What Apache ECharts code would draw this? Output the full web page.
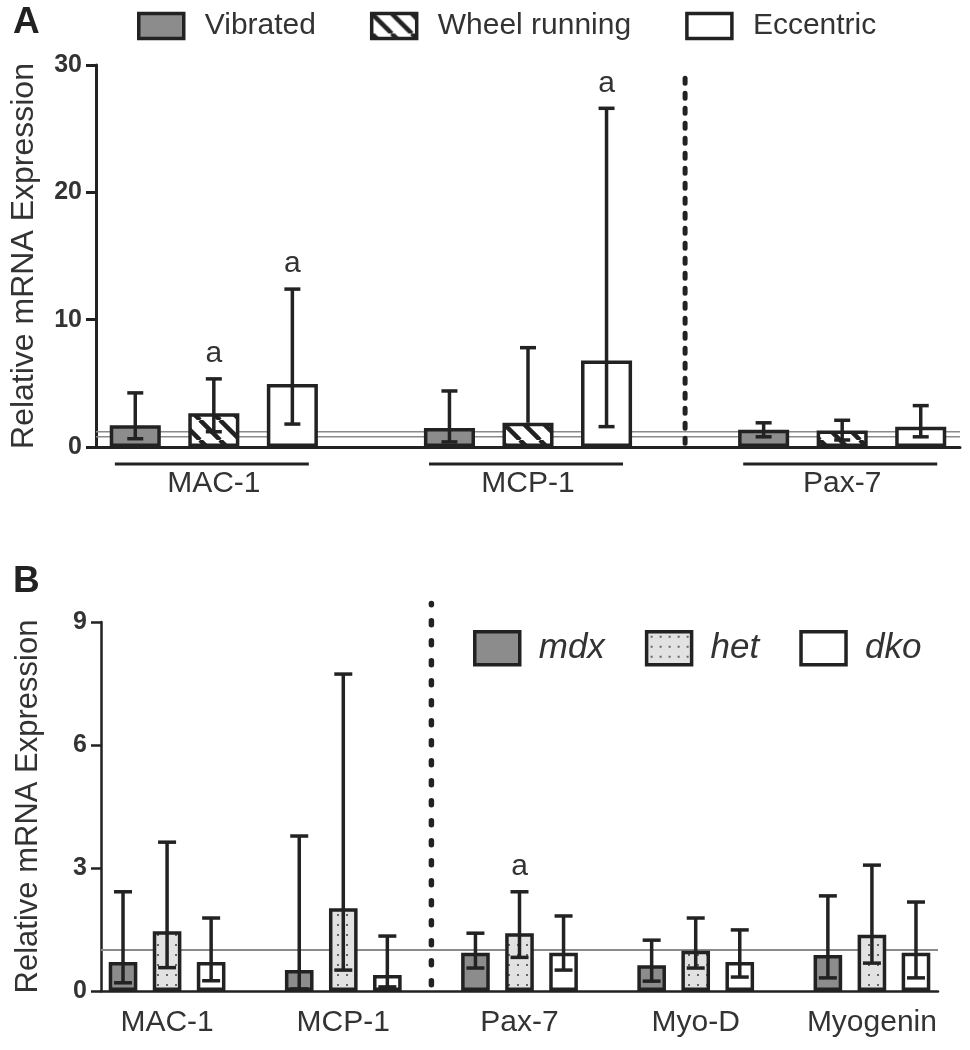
<!DOCTYPE html>
<html><head><meta charset="utf-8">
<script src="https://cdn.jsdelivr.net/npm/echarts@6/dist/echarts.min.js"></script>
<style>html,body{margin:0;padding:0;background:#fff}#c{width:970px;height:1050px}</style>
</head><body><div id="c"></div>
<script>
// ---------------- Panel A data ----------------
const genesA = ['MAC-1', 'MCP-1', 'Pax-7'];
const namesA = ['Vibrated', 'Wheel running', 'Eccentric'];
const vibrated      = [1.7, 1.5, 1.35];
const vibratedLow   = [0.65, 0.4, 0.8];
const vibratedHigh  = [4.25, 4.4, 1.9];
const wheel         = [2.65, 1.9, 1.3];
const wheelLow      = [1.2, null, 0.55];
const wheelHigh     = [5.35, 7.8, 2.1];
const eccentric     = [4.95, 6.8, 1.6];
const eccentricLow  = [1.8, 1.6, 0.8];
const eccentricHigh = [12.4, 26.6, 3.25];
const sigVibrated   = ['', '', ''];
const sigWheel      = ['a', '', ''];
const sigEccentric  = ['a', 'a', ''];
const refLinesA     = [0.8, 1.2];
const yTicksA       = [0, 10, 20, 30];
const dividerAfterA = 'MCP-1';

// ---------------- Panel B data ----------------
const genesB = ['MAC-1', 'MCP-1', 'Pax-7', 'Myo-D', 'Myogenin'];
const namesB = ['mdx', 'het', 'dko'];
const mdx      = [0.71, 0.51, 0.93, 0.63, 0.88];
const mdxLow   = [0.2, 0.05, 0.56, 0.24, 0.32];
const mdxHigh  = [2.42, 3.78, 1.41, 1.24, 2.32];
const het      = [1.46, 2.02, 1.41, 0.98, 1.37];
const hetLow   = [0.57, 0.51, 0.82, 0.56, 0.68];
const hetHigh  = [3.63, 7.73, 2.42, 1.78, 3.07];
const dko      = [0.71, 0.39, 0.93, 0.71, 0.93];
const dkoLow   = [0.25, 0.1, 0.51, 0.34, 0.32];
const dkoHigh  = [1.78, 1.34, 1.83, 1.49, 2.17];
const sigMdx   = ['', '', '', '', ''];
const sigHet   = ['', '', 'a', '', ''];
const sigDko   = ['', '', '', '', ''];
const refLinesB = [1];
const yTicksB   = [0, 3, 6, 9];
const dividerAfterB = 'MCP-1';

// ---------------- styling helpers ----------------
const INK = '#222';
const TXT = '#333';
const FONT = '"Liberation Sans", Arial, sans-serif';

function hatchPattern() {
  const s = 20, c = document.createElement('canvas');
  c.width = s; c.height = s;
  const g = c.getContext('2d');
  g.fillStyle = '#fff'; g.fillRect(0, 0, s, s);
  g.strokeStyle = INK; g.lineWidth = 4.5;
  for (const o of [-s, 0, s]) { g.beginPath(); g.moveTo(o, 0); g.lineTo(o + s, s); g.stroke(); }
  return c;
}
function dotPattern() {
  const w = 9, h = 10, c = document.createElement('canvas');
  c.width = w; c.height = h;
  const g = c.getContext('2d');
  g.fillStyle = '#e2e2e2'; g.fillRect(0, 0, w, h);
  g.fillStyle = '#666'; g.fillRect(4, 4, 2, 2);
  return c;
}
const fills = {
  grey: '#8c8c8c',
  hatch: { image: hatchPattern(), repeat: 'repeat' },
  dots: { image: dotPattern(), repeat: 'repeat' },
  white: '#ffffff'
};

// slot layout: each gene takes 3 slots, 1 empty slot between genes
function slotsFor(genes) {
  const n = genes.length * 4 - 1;
  const keys = [], labels = [];
  for (let i = 0; i < n; i++) { keys.push('s' + i); labels.push(''); }
  genes.forEach((g, gi) => { labels[gi * 4 + 1] = g; });
  return { keys, labels, n };
}
function barData(n, values, k) {
  const d = new Array(n).fill('-');
  values.forEach((v, gi) => { d[gi * 4 + k] = v; });
  return d;
}
function errData(values, lows, highs, k) {
  return values.map((v, gi) => [gi * 4 + k, lows[gi] == null ? '-' : lows[gi], highs[gi], v]);
}

const slotsA = slotsFor(genesA);
const slotsB = slotsFor(genesB);

function makeErrRenderer(sigs, capHalf, lw, fontSize) {
  return function (params, api) {
    const x = api.value(0), lo = api.value(1), hi = api.value(2), v = api.value(3);
    const pHi = api.coord([x, hi]);
    const hasLo = !isNaN(lo);
    const pLo = api.coord([x, hasLo ? lo : v]);
    const st = { stroke: INK, lineWidth: lw };
    const ch = [
      { type: 'line', shape: { x1: pHi[0], y1: pHi[1], x2: pLo[0], y2: pLo[1] }, style: st },
      { type: 'line', shape: { x1: pHi[0] - capHalf, y1: pHi[1], x2: pHi[0] + capHalf, y2: pHi[1] }, style: st }
    ];
    if (hasLo) ch.push({ type: 'line', shape: { x1: pLo[0] - capHalf, y1: pLo[1], x2: pLo[0] + capHalf, y2: pLo[1] }, style: st });
    const s = sigs[params.dataIndex];
    if (s) ch.push({ type: 'text', style: { text: s, x: pHi[0], y: pHi[1] - 25, align: 'center', verticalAlign: 'middle', fontSize: fontSize, fontFamily: FONT, fill: TXT } });
    return { type: 'group', children: ch };
  };
}
function refRenderer(color, lw) {
  return function (params, api) {
    const cs = params.coordSys;
    const y = api.coord([0, api.value(1)])[1];
    return { type: 'line', shape: { x1: cs.x, y1: y, x2: cs.x + cs.width, y2: y }, style: { stroke: color, lineWidth: lw } };
  };
}
function dividerRenderer(dash, lw) {
  return function (params, api) {
    const x = api.value(0);
    const p1 = api.coord([x, api.value(1)]), p2 = api.coord([x, api.value(2)]);
    return { type: 'line', shape: { x1: p1[0], y1: p1[1], x2: p2[0], y2: p2[1] }, style: { stroke: INK, lineWidth: lw, lineDash: dash, lineCap: 'round' } };
  };
}
function underlineRenderer(params, api) {
  const a = api.coord([api.value(0), 0]), b = api.coord([api.value(1), 0]);
  const w = api.size([1, 0])[0];
  return { type: 'line', shape: { x1: a[0] - 0.26 * w, y1: a[1] + 17, x2: b[0] + 0.21 * w, y2: a[1] + 17 }, style: { stroke: INK, lineWidth: 3 } };
}

function barSeries(name, n, values, k, fill, xi, bw) {
  return {
    name, type: 'bar', xAxisIndex: xi, yAxisIndex: xi, data: barData(n, values, k),
    barWidth: bw, barGap: '-100%', z: 2,
    itemStyle: { color: fill, borderColor: INK, borderWidth: 3.5 }
  };
}
function errSeries(values, lows, highs, k, sigs, xi, capHalf, lw) {
  return {
    type: 'custom', xAxisIndex: xi, yAxisIndex: xi, z: 3, silent: true,
    encode: { x: 0, y: [1, 2, 3] },
    data: errData(values, lows, highs, k),
    renderItem: makeErrRenderer(sigs, capHalf, lw, 30)
  };
}

const divA = genesA.indexOf(dividerAfterA) * 4 + 3;
const divB = genesB.indexOf(dividerAfterB) * 4 + 3;

const series = [
  // Panel A
  { type: 'custom', xAxisIndex: 0, yAxisIndex: 0, z: 1, silent: true, encode: { x: 0, y: 1 },
    data: refLinesA.map(v => [0, v]), renderItem: refRenderer('#8a8a8a', 1.6) },
  barSeries(namesA[0], slotsA.n, vibrated, 0, fills.grey, 0, '65%'),
  barSeries(namesA[1], slotsA.n, wheel, 1, fills.hatch, 0, '65%'),
  barSeries(namesA[2], slotsA.n, eccentric, 2, fills.white, 0, '65%'),
  errSeries(vibrated, vibratedLow, vibratedHigh, 0, sigVibrated, 0, 8, 3.5),
  errSeries(wheel, wheelLow, wheelHigh, 1, sigWheel, 0, 8, 3.5),
  errSeries(eccentric, eccentricLow, eccentricHigh, 2, sigEccentric, 0, 8, 3.5),
  { type: 'custom', xAxisIndex: 0, yAxisIndex: 0, z: 4, silent: true, clip: false, encode: { x: 0, y: [1, 2] },
    data: [[divA, 0.3, 29.6]], renderItem: dividerRenderer([5, 10], 5) },
  { type: 'custom', xAxisIndex: 0, yAxisIndex: 0, z: 4, silent: true, clip: false, encode: { x: [0, 1] },
    data: genesA.map((g, gi) => [gi * 4, gi * 4 + 2]), renderItem: underlineRenderer },
  // Panel B
  { type: 'custom', xAxisIndex: 1, yAxisIndex: 1, z: 1, silent: true, encode: { x: 0, y: 1 },
    data: refLinesB.map(v => [0, v]), renderItem: refRenderer('#8a8a8a', 2) },
  barSeries(namesB[0], slotsB.n, mdx, 0, fills.grey, 1, '65%'),
  barSeries(namesB[1], slotsB.n, het, 1, fills.dots, 1, '65%'),
  barSeries(namesB[2], slotsB.n, dko, 2, fills.white, 1, '65%'),
  errSeries(mdx, mdxLow, mdxHigh, 0, sigMdx, 1, 9, 3.5),
  errSeries(het, hetLow, hetHigh, 1, sigHet, 1, 9, 3.5),
  errSeries(dko, dkoLow, dkoHigh, 2, sigDko, 1, 9, 3.5),
  { type: 'custom', xAxisIndex: 1, yAxisIndex: 1, z: 4, silent: true, clip: false, encode: { x: 0, y: [1, 2] },
    data: [[divB, 0.15, 9.45]], renderItem: dividerRenderer([4, 16], 5.5) }
];

function xAxisFor(gi, slots, margin, fontSize, lw) {
  return {
    type: 'category', gridIndex: gi, data: slots.keys, boundaryGap: true,
    axisLine: { show: true, lineStyle: { color: INK, width: lw } },
    axisTick: { show: false },
    axisLabel: { interval: 0, margin: margin, fontSize: fontSize, color: TXT, fontFamily: FONT,
      formatter: (v, i) => slots.labels[i] },
    splitLine: { show: false }
  };
}
function yAxisFor(gi, ticks, nameGap, nameSize, lw) {
  return {
    type: 'value', gridIndex: gi, min: ticks[0], max: ticks[ticks.length - 1], interval: ticks[1] - ticks[0],
    name: 'Relative mRNA Expression', nameLocation: 'middle', nameGap: nameGap,
    nameTextStyle: { fontSize: nameSize, color: TXT, fontFamily: FONT },
    axisLine: { show: true, lineStyle: { color: INK, width: lw } },
    axisTick: { show: true, length: 10, lineStyle: { color: INK, width: lw } },
    axisLabel: { fontSize: 25, fontWeight: 'bold', color: TXT, margin: 14, fontFamily: FONT },
    splitLine: { show: false }
  };
}

const option = {
  animation: false,
  backgroundColor: '#fff',
  textStyle: { fontFamily: FONT },
  grid: [
    { left: 95, top: 65, width: 865, height: 382 },
    { left: 101, top: 622, width: 837, height: 369 }
  ],
  xAxis: [xAxisFor(0, slotsA, 22, 30, 3), xAxisFor(1, slotsB, 17, 30, 2.5)],
  yAxis: [yAxisFor(0, yTicksA, 56, 32, 3), yAxisFor(1, yTicksB, 57, 31, 2.5)],
  legend: [
    { data: namesA, left: 132, top: 6, itemWidth: 45, itemHeight: 25, itemGap: 54, icon: 'rect', selectedMode: false,
      itemStyle: { borderColor: INK, borderWidth: 3.5 },
      textStyle: { fontSize: 30, color: TXT, fontFamily: FONT, padding: [0, 0, 0, 16] } },
    { data: namesB, left: 468, top: 625, itemWidth: 45, itemHeight: 33, itemGap: 40, icon: 'rect', selectedMode: false,
      itemStyle: { borderColor: INK, borderWidth: 3.5 },
      textStyle: { fontSize: 35, fontStyle: 'italic', color: TXT, fontFamily: FONT, padding: [0, 0, 0, 14] } }
  ],
  graphic: [
    { type: 'text', left: 13, top: 4, style: { text: 'A', fontSize: 37, fontWeight: 'bold', fill: INK, fontFamily: FONT } },
    { type: 'text', left: 13, top: 563, style: { text: 'B', fontSize: 37, fontWeight: 'bold', fill: INK, fontFamily: FONT } }
  ],
  series: series
};

const chart = echarts.init(document.getElementById('c'), null, { renderer: 'canvas' });
chart.setOption(option);
</script>
</body></html>
